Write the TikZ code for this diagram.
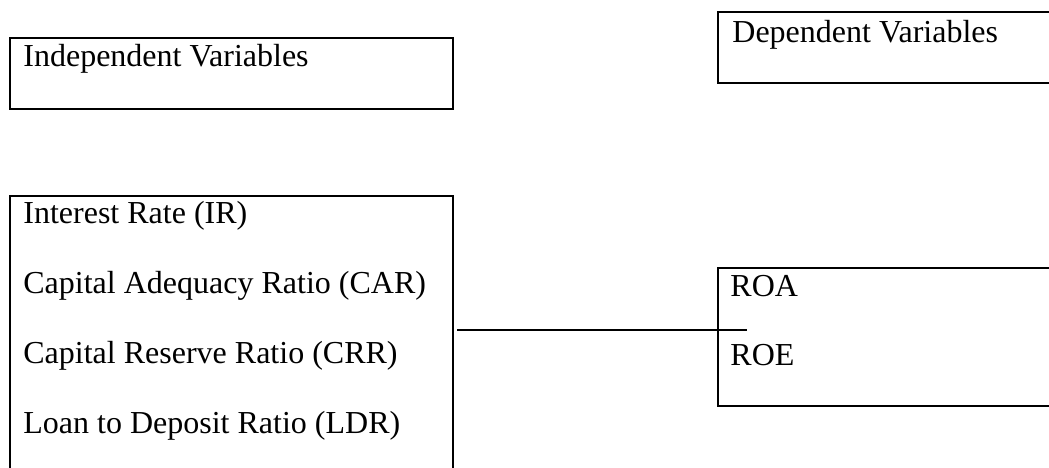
\documentclass[tikz,border=0pt]{standalone}
\usepackage{fontspec}
\setmainfont{Liberation Serif}
\tikzset{
  varbox/.style={draw,line width=1pt,rectangle,inner sep=0pt,anchor=north west},
  vartext/.style={anchor=base west,inner sep=0pt,font=\fontsize{16}{19}\selectfont},
}
\begin{document}
\begin{tikzpicture}[x=0.5pt,y=-0.5pt]
\useasboundingbox (0,0) rectangle (1049,467);
\clip (0,0) rectangle (1049,467);
\node[varbox,minimum width=221.5pt,minimum height=35.5pt] (indep) at (9,37) {};
\node[varbox,minimum width=171.5pt,minimum height=35.5pt] (dep) at (717,11) {};
\node[varbox,minimum width=221.5pt,minimum height=140pt] (indvars) at (9,195) {};
\node[varbox,minimum width=171.5pt,minimum height=69pt] (depvars) at (717,267) {};
\node[vartext] (indeptxt) at (23,66) {Independent Variables};
\node[vartext] (deptxt) at (732,42) {Dependent Variables};
\node[vartext] (ir) at (23,223) {Interest Rate (IR)};
\node[vartext] (car) at (23,293) {Capital Adequacy Ratio (CAR)};
\node[vartext] (crr) at (23,363) {Capital Reserve Ratio (CRR)};
\node[vartext] (ldr) at (23,433) {Loan to Deposit Ratio (LDR)};
\node[vartext] (roa) at (730,296) {ROA};
\node[vartext] (roe) at (730,365) {ROE};
\coordinate (tie) at (747,330);
\draw[line width=1pt] ([xshift=1.5pt]indvars.east |- tie) -- (tie);
\end{tikzpicture}
\end{document}
